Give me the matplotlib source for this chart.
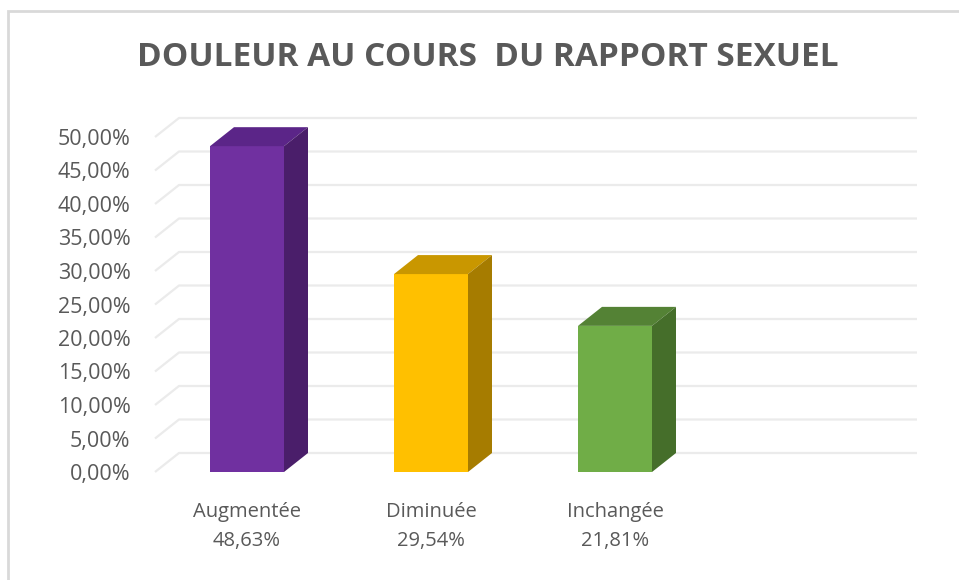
import matplotlib.pyplot as plt
from matplotlib.patches import Polygon, Rectangle

categories = ['Augmentée', 'Diminuée', 'Inchangée']
values = [48.63, 29.54, 21.81]
yticks = [0, 5, 10, 15, 20, 25, 30, 35, 40, 45, 50]

front_colors = ['#7030A0', '#FFC000', '#70AD47']
top_colors = ['#5B2588', '#C99700', '#548235']
side_colors = ['#4A1E6A', '#A67C00', '#456E2A']

plt.rcParams['font.family'] = ['Open Sans', 'DejaVu Sans']

W, H = 959, 580
fig = plt.figure(figsize=(W / 100, H / 100), dpi=100)

# pixel -> data mapping (front plane)
px_x0, px_unit = 247, 184      # x of first bar center, px per category
py_0, py_pct = 472, 6.7        # y of 0 %, px per percent
left_px, right_px, top_py, bot_py = 150, 920, 112, 478
ax = fig.add_axes([left_px / W, (H - bot_py) / H, (right_px - left_px) / W, (bot_py - top_py) / H])
ax.set_xlim((left_px - px_x0) / px_unit, (right_px - px_x0) / px_unit)
ax.set_ylim((py_0 - bot_py) / py_pct, (py_0 - top_py) / py_pct)

# 3d depth offset
ddx = 24 / px_unit
ddy = 19 / py_pct
bw = 74 / px_unit

# back wall gridlines
x_start = (155 - px_x0) / px_unit
x_end = (917 - px_x0) / px_unit
for t in yticks:
    ax.plot([x_start, x_start + ddx, x_end], [t, t + ddy, t + ddy],
            color='#ebebeb', lw=1.6, zorder=1, solid_capstyle='butt')

xs = list(range(len(categories)))
ax.bar(xs, values, width=bw, color=front_colors, zorder=3)
for x, v, tc, sc in zip(xs, values, top_colors, side_colors):
    l, r = x - bw / 2, x + bw / 2
    ax.add_patch(Polygon([(l, v), (r, v), (r + ddx, v + ddy), (l + ddx, v + ddy)],
                         closed=True, facecolor=tc, edgecolor='none', zorder=3))
    ax.add_patch(Polygon([(r, 0), (r + ddx, ddy), (r + ddx, v + ddy), (r, v)],
                         closed=True, facecolor=sc, edgecolor='none', zorder=3))

ax.set_yticks(yticks)
ax.set_yticklabels([f'{t:.2f}%'.replace('.', ',') for t in yticks])
ax.set_xticks(xs)
ax.set_xticklabels([f'{c}\n{v:.2f}%'.replace('.', ',') for c, v in zip(categories, values)],
                   linespacing=1.6)
ax.tick_params(axis='y', length=0, pad=14, labelsize=15.5, labelcolor='#595959')
ax.tick_params(axis='x', length=0, pad=17, labelsize=14.5, labelcolor='#595959')
for s in ax.spines.values():
    s.set_visible(False)
ax.set_facecolor('none')

fig.text(488 / W, (H - 58) / H, 'DOULEUR AU COURS  DU RAPPORT SEXUEL', ha='center', va='center',
         fontsize=24, fontweight='bold', color='#595959')

fig.add_artist(Rectangle((8 / W, -0.1), 1.2, (H - 11) / H + 0.1, transform=fig.transFigure,
                         fill=False, edgecolor='#d9d9d9', lw=2))

fig.savefig('out.png', dpi=100)
